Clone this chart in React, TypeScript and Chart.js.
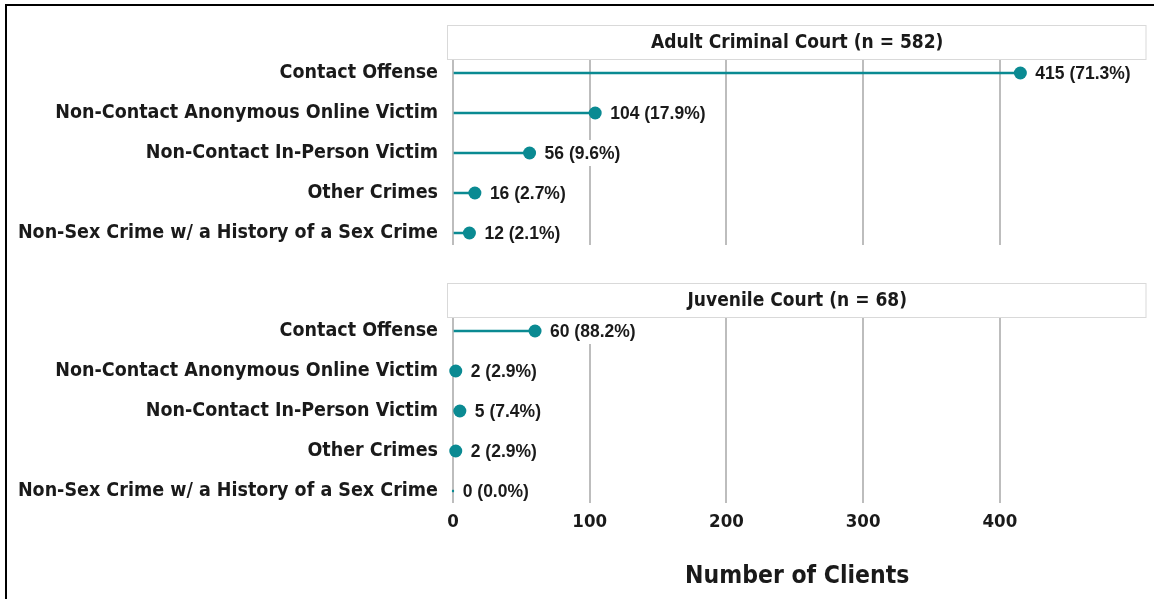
import React, { useEffect, useRef } from "react";
import { Chart, registerables } from "chart.js";

Chart.register(...registerables);

const categories = [
  "Contact Offense",
  "Non-Contact Anonymous Online Victim",
  "Non-Contact In-Person Victim",
  "Other Crimes",
  "Non-Sex Crime w/ a History of a Sex Crime",
];
const adultCounts = [415, 104, 56, 16, 12];
const adultPercents = [71.3, 17.9, 9.6, 2.7, 2.1];
const juvenileCounts = [60, 2, 5, 2, 0];
const juvenilePercents = [88.2, 2.9, 7.4, 2.9, 0.0];
const panelTitles = ["Adult Criminal Court (n = 582)", "Juvenile Court (n = 68)"];
const xTickValues = [0, 100, 200, 300, 400];
const xAxisTitle = "Number of Clients";

const TEAL = "#0a8a92";
const GRID = "#bdbdbd";
const TEXT = "#1a1a1a";
const SANS = "'DejaVu Sans Condensed', 'DejaVu Sans', sans-serif";

function makeConfig(counts: number[], percents: number[], title: string, bottom: boolean): any {
  const pts = counts.map((v, i) => ({ x: v, y: i }));
  const radii = counts.map((v) => (v === 0 ? 1.2 : 6.5));

  const stripPlugin = {
    id: "strip",
    beforeDraw(chart: any) {
      const { ctx, chartArea } = chart;
      const top = chartArea.top - 35;
      ctx.save();
      ctx.fillStyle = "#ffffff";
      ctx.fillRect(chartArea.left, top, chartArea.right - chartArea.left - 1, 34);
      ctx.strokeStyle = "#d9d9d9";
      ctx.lineWidth = 1;
      ctx.strokeRect(chartArea.left + 0.5, top + 0.5, chartArea.right - chartArea.left - 2, 34);
      ctx.fillStyle = TEXT;
      ctx.font = `bold 19px ${SANS}`;
      ctx.textAlign = "center";
      ctx.textBaseline = "middle";
      ctx.fillText(title, (chartArea.left + chartArea.right) / 2, top + 18);
      ctx.restore();
    },
  };

  const labelPlugin = {
    id: "valueLabels",
    afterDatasetsDraw(chart: any) {
      const { ctx } = chart;
      const meta = chart.getDatasetMeta(1);
      ctx.save();
      ctx.font = `bold 17.5px 'Liberation Sans', Arial, sans-serif`;
      ctx.textAlign = "left";
      ctx.textBaseline = "middle";
      meta.data.forEach((el: any, i: number) => {
        const txt = `${counts[i]} (${percents[i].toFixed(1)}%)`;
        const x = el.x + radii[i] + 8.5;
        const w = ctx.measureText(txt).width;
        ctx.fillStyle = "#ffffff";
        ctx.fillRect(x - 4, el.y - 13, w + 8, 26);
        ctx.fillStyle = TEXT;
        ctx.fillText(txt, x, el.y + 1);
      });
      ctx.restore();
    },
  };

  return {
    type: "bar",
    data: {
      datasets: [
        {
          type: "bar",
          data: pts,
          backgroundColor: TEAL,
          barThickness: 2,
          indexAxis: "y",
          order: 2,
        },
        {
          type: "line",
          data: pts,
          indexAxis: "y",
          showLine: false,
          pointRadius: radii,
          pointHoverRadius: radii,
          pointBackgroundColor: TEAL,
          pointBorderWidth: 0,
          borderColor: TEAL,
          order: 1,
        },
      ],
    },
    options: {
      indexAxis: "y",
      responsive: false,
      animation: false,
      devicePixelRatio: 1,
      layout: { padding: { top: bottom ? 58 : 60, right: 4, bottom: bottom ? 0 : 15, left: 0 } },
      plugins: { legend: { display: false }, tooltip: { enabled: false } },
      scales: {
        x: {
          type: "linear",
          min: -4.4,
          max: 508,
          offset: false,
          afterBuildTicks: (s: any) => {
            s.ticks = xTickValues.map((v) => ({ value: v }));
          },
          afterFit: (s: any) => {
            s.height = bottom ? 96 : 0;
            s.paddingLeft = 0;
            s.paddingRight = 0;
          },
          grid: { color: GRID, lineWidth: 2, drawTicks: false, offset: false },
          border: { display: false },
          ticks: {
            display: bottom,
            padding: 8,
            color: TEXT,
            font: { family: SANS, size: 18.5, weight: "bold" },
          },
          title: {
            display: bottom,
            text: xAxisTitle,
            color: TEXT,
            font: { family: SANS, size: 24.5, weight: "bold" },
            padding: { top: 0, bottom: 8 },
          },
        },
        y: {
          type: "linear",
          reverse: true,
          offset: false,
          min: -0.325,
          max: 4.3,
          afterBuildTicks: (s: any) => {
            s.ticks = categories.map((_, i) => ({ value: i }));
          },
          afterFit: (s: any) => {
            s.width = 447;
            s.paddingTop = 0;
            s.paddingBottom = 0;
          },
          grid: { display: false, drawTicks: false, offset: false },
          border: { display: false },
          ticks: {
            padding: 9,
            color: TEXT,
            font: { family: SANS, size: 19.5, weight: "bold" },
            callback: (v: any) => categories[Math.round(Number(v))] ?? "",
          },
        },
      },
    },
    plugins: [stripPlugin, labelPlugin],
  };
}

export default function App() {
  const topRef = useRef<HTMLCanvasElement | null>(null);
  const botRef = useRef<HTMLCanvasElement | null>(null);

  useEffect(() => {
    const c1 = new Chart(topRef.current as HTMLCanvasElement, makeConfig(adultCounts, adultPercents, panelTitles[0], false));
    const c2 = new Chart(botRef.current as HTMLCanvasElement, makeConfig(juvenileCounts, juvenilePercents, panelTitles[1], true));
    return () => {
      c1.destroy();
      c2.destroy();
    };
  }, []);

  return (
    <div style={{ position: "fixed", left: 0, top: 0, width: 1154, height: 599, background: "#fff", overflow: "hidden" }}>
      <div
        style={{
          position: "absolute",
          left: 5,
          top: 4,
          width: 1300,
          height: 700,
          borderLeft: "2px solid #000",
          borderTop: "2px solid #000",
        }}
      />
      <canvas ref={topRef} width={1154} height={260} style={{ position: "absolute", left: 0, top: 0, width: 1154, height: 260 }} />
      <canvas ref={botRef} width={1154} height={339} style={{ position: "absolute", left: 0, top: 260, width: 1154, height: 339 }} />
    </div>
  );
}
